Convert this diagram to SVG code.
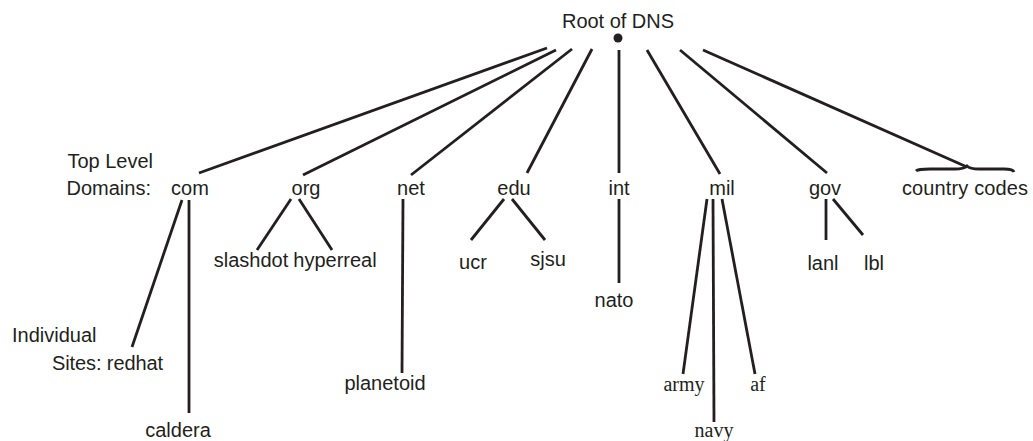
<svg xmlns="http://www.w3.org/2000/svg" width="1033" height="441" viewBox="0 0 1033 441">
<style>
.t{font-family:"Liberation Sans","DejaVu Sans",sans-serif;font-size:20px;fill:#231f20}
.s{font-family:"Liberation Serif","DejaVu Serif",serif;font-size:20px;fill:#231f20}
.c line,.c path{stroke:#231f20;stroke-width:2.8;fill:none;stroke-linecap:butt}
</style>
<rect width="1033" height="441" fill="#ffffff"/>
<g id="connectors" class="c">
<line x1="547" y1="48" x2="199" y2="173"/>
<line x1="556" y1="50" x2="303" y2="175"/>
<line x1="572" y1="49" x2="411" y2="175"/>
<line x1="592" y1="49" x2="527" y2="173"/>
<line x1="619" y1="50" x2="619" y2="173"/>
<line x1="647" y1="50" x2="720" y2="174"/>
<line x1="680" y1="50" x2="827" y2="173"/>
<line x1="703" y1="50" x2="967" y2="167"/>
<path d="M916 171 Q918 169 930 169 L955 169 Q964 169 967 166 Q970 169 979 169 L1004 169 Q1013 169 1014 172"/>
<line x1="182" y1="200" x2="132" y2="347"/>
<line x1="189" y1="200" x2="189" y2="413"/>
<line x1="291" y1="199" x2="257" y2="250"/>
<line x1="299" y1="199" x2="332" y2="250"/>
<line x1="403" y1="199" x2="402" y2="373"/>
<line x1="504" y1="199" x2="471" y2="240"/>
<line x1="512" y1="199" x2="545" y2="240"/>
<line x1="619" y1="199" x2="619" y2="283"/>
<line x1="707" y1="199" x2="683" y2="374"/>
<line x1="713" y1="199" x2="714" y2="422"/>
<line x1="722" y1="199" x2="755" y2="374"/>
<line x1="826" y1="199" x2="826" y2="240"/>
<line x1="833" y1="199" x2="863" y2="235"/>
</g>
<g id="root"><circle cx="618" cy="38" r="4.5" fill="#231f20"/><text class="t" x="618" y="28" text-anchor="middle" textLength="112">Root of DNS</text></g>
<g id="label-tld"><text class="t" x="153" y="168" text-anchor="end">Top Level</text><text class="t" x="151" y="195" text-anchor="end">Domains:</text></g>
<g id="com"><text class="t" x="190" y="195" text-anchor="middle">com</text></g>
<g id="org"><text class="t" x="306" y="195" text-anchor="middle">org</text></g>
<g id="net"><text class="t" x="411" y="195" text-anchor="middle">net</text></g>
<g id="edu"><text class="t" x="514" y="195" text-anchor="middle">edu</text></g>
<g id="int"><text class="t" x="619" y="195" text-anchor="middle">int</text></g>
<g id="mil"><text class="t" x="722" y="195" text-anchor="middle">mil</text></g>
<g id="gov"><text class="t" x="825" y="195" text-anchor="middle">gov</text></g>
<g id="country-codes"><text class="t" x="965" y="195" text-anchor="middle" textLength="126">country codes</text></g>
<g id="label-sites"><text class="t" x="12" y="342">Individual</text></g>
<g id="redhat"><text class="t" x="52" y="370" textLength="111">Sites: redhat</text></g>
<g id="caldera"><text class="t" x="178" y="437" text-anchor="middle">caldera</text></g>
<g id="slashdot"><text class="t" x="251" y="267" text-anchor="middle">slashdot</text></g>
<g id="hyperreal"><text class="t" x="335" y="267" text-anchor="middle">hyperreal</text></g>
<g id="planetoid"><text class="t" x="385" y="390" text-anchor="middle">planetoid</text></g>
<g id="ucr"><text class="t" x="473" y="269" text-anchor="middle">ucr</text></g>
<g id="sjsu"><text class="t" x="548" y="266" text-anchor="middle">sjsu</text></g>
<g id="nato"><text class="t" x="614" y="307" text-anchor="middle">nato</text></g>
<g id="army"><text class="s" x="684" y="391" text-anchor="middle">army</text></g>
<g id="navy"><text class="s" x="714" y="437" text-anchor="middle">navy</text></g>
<g id="af"><text class="s" x="758" y="391" text-anchor="middle">af</text></g>
<g id="lanl"><text class="t" x="823" y="270" text-anchor="middle">lanl</text></g>
<g id="lbl"><text class="t" x="874" y="270" text-anchor="middle">lbl</text></g>
</svg>
